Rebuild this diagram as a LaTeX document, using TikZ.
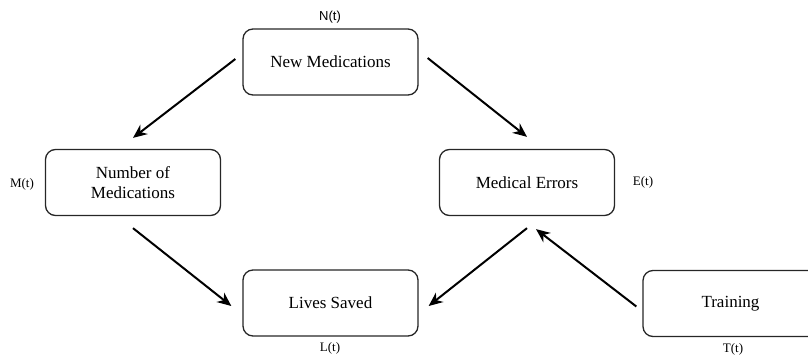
\documentclass[tikz,border=0pt]{standalone}
\usepackage{fontspec}
\setmainfont{Liberation Serif}
\newfontfamily\labelsans{Liberation Sans}
\usetikzlibrary{arrows.meta}
\begin{document}
\begin{tikzpicture}[x=1pt,y=-1pt,
  box/.style={draw=black!85, line width=1.3pt, rounded corners=10pt, minimum width=175pt, minimum height=66pt, align=center, font=\fontsize{17}{20}\selectfont, inner sep=0pt},
  lbl/.style={font=\fontsize{13}{15}\selectfont, inner sep=0pt},
  lblsans/.style={font=\labelsans\fontsize{13}{15}\selectfont, inner sep=0pt},
  conn/.style={line width=2pt, -{Stealth[length=14pt,width=12pt]}}
]
\useasboundingbox (0,0) rectangle (808,356);
\node[box] (new) at (330.5,62) {New Medications};
\node[box] (num) at (133,182.5) {Number of\\Medications};
\node[box] (err) at (527,182.5) {Medical Errors};
\node[box] (lives) at (330.5,303) {Lives Saved};
\node[box] (train) at (730.5,303.5) {Training};
\node[lblsans] (nl) at (330,17) {N(t)};
\node[lbl] (ml) at (22,184) {M(t)};
\node[lbl] (el) at (643,182) {E(t)};
\node[lbl] (ll) at (330,348) {L(t)};
\node[lbl] (tl) at (733,349) {T(t)};
\draw[conn] ([shift={(-7,-3)}]new.west) -- ([shift={(0,-11)}]num.north);
\draw[conn] ([shift={(9,-4)}]new.east) -- ([shift={(0,-12)}]err.north);
\draw[conn] ([shift={(0,12)}]num.south) -- ([shift={(-11,3)}]lives.west);
\draw[conn] ([shift={(0,12)}]err.south) -- ([shift={(10,3)}]lives.east);
\draw[conn] ([shift={(-6,3)}]train.west) -- ([shift={(9,13)}]err.south);
\end{tikzpicture}
\end{document}
